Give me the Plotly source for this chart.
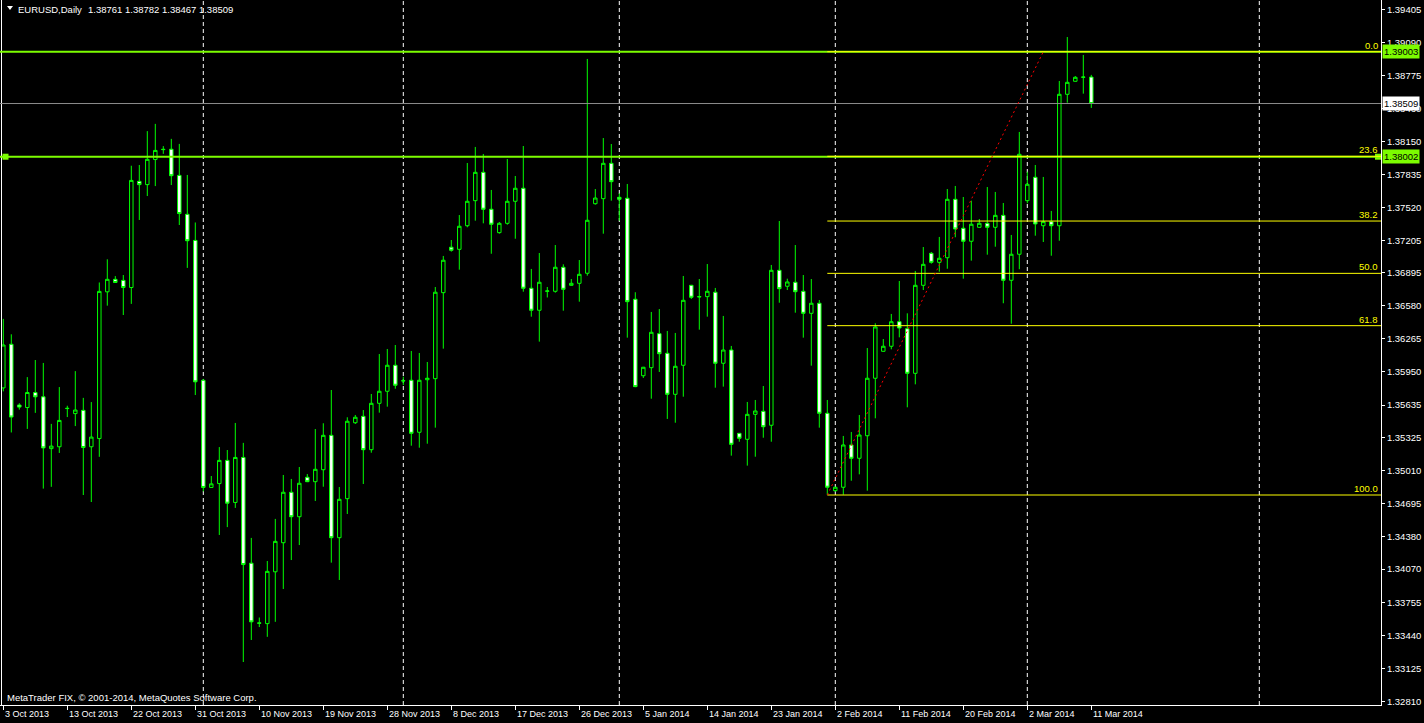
import plotly.graph_objects as go

# ---------------- data (EURUSD daily, 3 Oct 2013 .. 11 Mar 2014, bars Sun-Fri) ----------------
OPEN = [
    1.35798, 1.36214, 1.35635, 1.35611, 1.35754, 1.35713, 1.35219, 1.35237, 1.35601, 1.35553,
    1.35584, 1.35237, 1.35315, 1.36714, 1.36833, 1.36823, 1.36755, 1.37767, 1.37736, 1.37975,
    1.38073, 1.38073, 1.37824, 1.37453, 1.37204, 1.35870, 1.34849, 1.34886, 1.35107, 1.34706,
    1.35135, 1.34127, 1.33558, 1.33551, 1.34045, 1.34322, 1.34803, 1.34570, 1.34946, 1.34904,
    1.35018, 1.35346, 1.34370, 1.34742, 1.35466, 1.35527, 1.35209, 1.35651, 1.35766, 1.36014,
    1.35867, 1.35871, 1.35375, 1.35876, 1.35886, 1.36706, 1.37139, 1.37119, 1.37344, 1.37583,
    1.37853, 1.37501, 1.37278, 1.37367, 1.37577, 1.37701, 1.36748, 1.36538, 1.36719, 1.36719,
    1.36948, 1.36776, 1.36795, 1.36891, 1.37554, 1.37602, 1.37939, 1.37615, 1.37606, 1.36643,
    1.35914, 1.35991, 1.36315, 1.36128, 1.35737, 1.36014, 1.36776, 1.36665, 1.36668, 1.36710,
    1.36033, 1.36159, 1.35365, 1.35308, 1.35546, 1.35575, 1.35442, 1.36919, 1.36767, 1.36805,
    1.36719, 1.36509, 1.36605, 1.35556, 1.34818, 1.34851, 1.35254, 1.35127, 1.35342, 1.35890,
    1.36147, 1.36195, 1.36429, 1.36362, 1.35937, 1.36776, 1.37081, 1.36995, 1.37039, 1.37596,
    1.37320, 1.37196, 1.37329, 1.37367, 1.37329, 1.37443, 1.36824, 1.37072, 1.37583, 1.37806,
    1.37344, 1.37383, 1.37344, 1.38597, 1.38721, 1.38759, 1.38761,
]
HIGH = [
    1.36456, 1.36309, 1.35652, 1.35901, 1.36064, 1.36036, 1.35455, 1.35806, 1.35628, 1.35958,
    1.35703, 1.35663, 1.36803, 1.37024, 1.36864, 1.36874, 1.37916, 1.37923, 1.38246, 1.38315,
    1.38103, 1.38172, 1.38124, 1.37828, 1.37375, 1.35884, 1.34958, 1.35234, 1.35206, 1.35464,
    1.35274, 1.34368, 1.33609, 1.34148, 1.34549, 1.34968, 1.34930, 1.35044, 1.34977, 1.35406,
    1.35461, 1.35778, 1.34853, 1.35518, 1.35540, 1.35587, 1.35740, 1.36121, 1.36169, 1.36207,
    1.35905, 1.36150, 1.36131, 1.36045, 1.36760, 1.37056, 1.37208, 1.37446, 1.37942, 1.38095,
    1.38028, 1.37685, 1.37380, 1.37980, 1.37818, 1.38104, 1.36932, 1.37084, 1.36760, 1.37160,
    1.36976, 1.36836, 1.37017, 1.38934, 1.37694, 1.38180, 1.38123, 1.37653, 1.37742, 1.36710,
    1.35998, 1.36522, 1.36550, 1.36341, 1.36322, 1.36865, 1.36780, 1.36836, 1.36979, 1.36751,
    1.36484, 1.36198, 1.35368, 1.35664, 1.35683, 1.35816, 1.36970, 1.37389, 1.36839, 1.37160,
    1.36874, 1.36836, 1.36636, 1.35683, 1.34855, 1.35340, 1.35378, 1.35540, 1.36178, 1.36414,
    1.36264, 1.36503, 1.36817, 1.36509, 1.36913, 1.37141, 1.37094, 1.37237, 1.37694, 1.37723,
    1.37618, 1.37583, 1.37408, 1.37713, 1.37666, 1.37561, 1.37256, 1.38238, 1.37859, 1.37923,
    1.37809, 1.37485, 1.38724, 1.39143, 1.38771, 1.38972, 1.38782,
]
LOW = [
    1.35765, 1.35373, 1.35591, 1.35407, 1.35560, 1.34838, 1.34855, 1.35178, 1.35520, 1.35434,
    1.34777, 1.34710, 1.35141, 1.36582, 1.36800, 1.36493, 1.36599, 1.37399, 1.37627, 1.37722,
    1.38029, 1.37732, 1.37351, 1.36942, 1.35730, 1.34811, 1.34845, 1.34396, 1.34471, 1.34654,
    1.33185, 1.33395, 1.33518, 1.33425, 1.33568, 1.33881, 1.34157, 1.34300, 1.34900, 1.34720,
    1.34856, 1.34132, 1.33967, 1.34596, 1.35454, 1.34882, 1.35180, 1.35562, 1.35619, 1.35790,
    1.35826, 1.35247, 1.35228, 1.35266, 1.35419, 1.36172, 1.37097, 1.36925, 1.37329, 1.37392,
    1.37367, 1.37077, 1.37268, 1.37354, 1.37220, 1.36715, 1.36477, 1.36239, 1.36660, 1.36706,
    1.36534, 1.36772, 1.36620, 1.36868, 1.37545, 1.37268, 1.37583, 1.37392, 1.36277, 1.35805,
    1.35893, 1.35695, 1.35950, 1.35502, 1.35466, 1.35714, 1.36646, 1.36353, 1.36477, 1.35800,
    1.35810, 1.35152, 1.35285, 1.35057, 1.35142, 1.35323, 1.35285, 1.36610, 1.36731, 1.36515,
    1.36277, 1.36010, 1.35419, 1.34777, 1.34809, 1.34780, 1.34913, 1.34974, 1.34818, 1.35508,
    1.36144, 1.36166, 1.36280, 1.35613, 1.35832, 1.36731, 1.36982, 1.36906, 1.36934, 1.37234,
    1.36839, 1.37011, 1.37326, 1.37068, 1.37144, 1.36605, 1.36410, 1.36929, 1.37558, 1.37249,
    1.37189, 1.37058, 1.37201, 1.38517, 1.38718, 1.38603, 1.38467,
]
CLOSE = [
    1.36207, 1.35520, 1.35615, 1.35754, 1.35713, 1.35226, 1.35243, 1.35488, 1.35603, 1.35587,
    1.35230, 1.35329, 1.36718, 1.36833, 1.36803, 1.36755, 1.37776, 1.37736, 1.37977, 1.38062,
    1.38070, 1.37821, 1.37460, 1.37201, 1.35856, 1.34849, 1.34883, 1.35107, 1.34699, 1.35135,
    1.34114, 1.33568, 1.33555, 1.34049, 1.34335, 1.34803, 1.34570, 1.34889, 1.34904, 1.35022,
    1.35346, 1.34370, 1.34736, 1.35480, 1.35518, 1.35209, 1.35651, 1.35766, 1.36014, 1.35823,
    1.35865, 1.35365, 1.35871, 1.35890, 1.36710, 1.37015, 1.37110, 1.37339, 1.37577, 1.37853,
    1.37501, 1.37358, 1.37367, 1.37577, 1.37701, 1.36748, 1.36538, 1.36805, 1.36722, 1.36948,
    1.36738, 1.36795, 1.36881, 1.37396, 1.37608, 1.37939, 1.37764, 1.37596, 1.36620, 1.35810,
    1.35995, 1.36328, 1.36124, 1.35737, 1.36004, 1.36633, 1.36662, 1.36668, 1.36719, 1.36033,
    1.36159, 1.35260, 1.35318, 1.35546, 1.35578, 1.35428, 1.36919, 1.36744, 1.36808, 1.36715,
    1.36509, 1.36605, 1.35556, 1.34851, 1.34851, 1.35254, 1.35127, 1.35349, 1.35890, 1.36379,
    1.36195, 1.36429, 1.36369, 1.35937, 1.36776, 1.36976, 1.36995, 1.37034, 1.37596, 1.37313,
    1.37196, 1.37358, 1.37367, 1.37329, 1.37443, 1.36824, 1.37072, 1.38025, 1.37739, 1.37361,
    1.37383, 1.37344, 1.38597, 1.38711, 1.38759, 1.38761, 1.38509,
]

DATE_LABELS = ["3 Oct 2013", "13 Oct 2013", "22 Oct 2013", "31 Oct 2013", "10 Nov 2013",
               "19 Nov 2013", "28 Nov 2013", "8 Dec 2013", "17 Dec 2013", "26 Dec 2013",
               "5 Jan 2014", "14 Jan 2014", "23 Jan 2014", "2 Feb 2014", "11 Feb 2014",
               "20 Feb 2014", "2 Mar 2014", "11 Mar 2014"]
DATE_LABEL_BARS = [0, 8, 16, 24, 32, 40, 48, 56, 64, 72, 80, 88, 96, 104, 112, 120, 128, 136]
MONTH_START_BARS = [25, 50, 77, 104, 128, 157]   # 1 Nov, 1 Dec, 1 Jan, 2 Feb, 2 Mar, 1 Apr

PRICE_TICKS = [1.39405, 1.39090, 1.38775, 1.38460, 1.38150, 1.37835, 1.37520, 1.37205,
               1.36895, 1.36580, 1.36265, 1.35950, 1.35635, 1.35325, 1.35010, 1.34695,
               1.34380, 1.34070, 1.33755, 1.33440, 1.33125, 1.32810]

LEVEL_HI = 1.39003          # horizontal lines
LEVEL_LO = 1.38002
BID = 1.38509
FIB_LOW, FIB_HIGH = 1.34777, 1.39003
FIB_BAR_LOW, FIB_BAR_HIGH = 103, 130
FIB_LEVELS = [0.0, 23.6, 38.2, 50.0, 61.8, 100.0]

TITLE_SYMBOL = "EURUSD,Daily"
TITLE_OHLC = "1.38761 1.38782 1.38467 1.38509"
WATERMARK = "MetaTrader FIX, \u00a9 2001-2014, MetaQuotes Software Corp."

# ---------------- figure ----------------
W, H = 1424, 723
PLOT_W, PLOT_H = 1381, 705
Y_RANGE = [1.327751, 1.394959]
X_RANGE = [-0.4125, 172.2125]
FONT = "Liberation Sans, Arial, sans-serif"
FS = 9.5
FS_DATE = 9
LIME = "#00FF00"
LAWN = "#7CFC00"

x = list(range(len(OPEN)))

fig = go.Figure()
fig.add_trace(go.Candlestick(
    x=x, open=OPEN, high=HIGH, low=LOW, close=CLOSE,
    increasing=dict(line=dict(color=LIME, width=1), fillcolor="black"),
    decreasing=dict(line=dict(color=LIME, width=1), fillcolor="white"),
    whiskerwidth=0, hoverinfo="skip", showlegend=False,
))

def px_x(p):
    return p / PLOT_W

def px_y(p):
    return 1 - p / PLOT_H

shapes = []
# vertical dashed grid at month starts
for b in MONTH_START_BARS:
    shapes.append(dict(type="line", xref="x", yref="paper", x0=b, x1=b, y0=0, y1=1,
                       line=dict(color="white", width=1, dash="4px,3px"), layer="below"))
# left frame line
shapes.append(dict(type="line", xref="paper", yref="paper", x0=px_x(1.5), x1=px_x(1.5), y0=0, y1=1,
                   line=dict(color="white", width=1)))
# bid line
shapes.append(dict(type="line", xref="paper", yref="y", x0=0, x1=1, y0=BID, y1=BID,
                   line=dict(color="#8C8C8C", width=1)))
# horizontal levels
for lv in (LEVEL_HI, LEVEL_LO):
    shapes.append(dict(type="line", xref="paper", yref="y", x0=0, x1=1, y0=lv, y1=lv,
                       line=dict(color=LAWN, width=2)))
# small anchor squares on lower level
half = 3.0 / (PLOT_H / (Y_RANGE[1] - Y_RANGE[0]))
for a, b in ((px_x(2.5), px_x(8.5)), (px_x(1375), px_x(1381))):
    shapes.append(dict(type="rect", xref="paper", yref="y", x0=a, x1=b,
                       y0=LEVEL_LO - half, y1=LEVEL_LO + half,
                       line=dict(width=0), fillcolor=LAWN))
# fibonacci levels
for f in FIB_LEVELS:
    price = FIB_HIGH - (FIB_HIGH - FIB_LOW) * f / 100.0
    shapes.append(dict(type="line", xref="x", yref="y", x0=FIB_BAR_LOW, x1=X_RANGE[1],
                       y0=price, y1=price, line=dict(color="#FFFF00", width=1)))
# fibonacci trend line
shapes.append(dict(type="line", xref="x", yref="y", x0=FIB_BAR_LOW, y0=FIB_LOW,
                   x1=FIB_BAR_HIGH, y1=FIB_HIGH,
                   line=dict(color="#FF0000", width=1, dash="2px,3px")))
# title triangle
shapes.append(dict(type="path", xref="paper", yref="paper",
                   path=f"M {px_x(7)} {px_y(6)} L {px_x(13)} {px_y(6)} L {px_x(10)} {px_y(10)} Z",
                   fillcolor="white", line=dict(width=0)))

annotations = []
# fib labels
for f in FIB_LEVELS:
    price = FIB_HIGH - (FIB_HIGH - FIB_LOW) * f / 100.0
    annotations.append(dict(text=f"{f:.1f}", xref="paper", yref="y", x=px_x(1379), y=price,
                            xanchor="right", yanchor="bottom", showarrow=False, borderpad=0,
                            font=dict(family=FONT, size=FS, color="#FFFF00")))
# price boxes on axis
for val, bg in ((LEVEL_HI, LAWN), (LEVEL_LO, LAWN), (BID, "white")):
    annotations.append(dict(text=f"{val:.5f}", xref="paper", yref="y", x=1, y=val,
                            xanchor="left", yanchor="middle", xshift=1, showarrow=False,
                            bgcolor=bg, borderpad=1,
                            font=dict(family=FONT, size=FS, color="black")))
# date labels
for b, lab in zip(DATE_LABEL_BARS, DATE_LABELS):
    annotations.append(dict(text=lab, xref="x", yref="paper", x=b, y=0, xanchor="left",
                            yanchor="top", yshift=-2, showarrow=False,
                            font=dict(family=FONT, size=FS_DATE, color="white")))
# title & watermark
annotations.append(dict(text=TITLE_SYMBOL, xref="paper", yref="paper", x=px_x(16), y=px_y(9),
                        xanchor="left", yanchor="middle", showarrow=False,
                        font=dict(family=FONT, size=FS, color="white")))
annotations.append(dict(text=TITLE_OHLC, xref="paper", yref="paper", x=px_x(86), y=px_y(9),
                        xanchor="left", yanchor="middle", showarrow=False,
                        font=dict(family=FONT, size=FS, color="white")))
annotations.append(dict(text=WATERMARK, xref="paper", yref="paper", x=px_x(5), y=px_y(697),
                        xanchor="left", yanchor="middle", showarrow=False,
                        font=dict(family=FONT, size=FS, color="white")))

fig.update_layout(
    width=W, height=H,
    margin=dict(l=0, r=W - PLOT_W, t=0, b=H - PLOT_H, pad=0),
    paper_bgcolor="black", plot_bgcolor="black",
    showlegend=False, boxgap=0.38, hovermode=False,
    shapes=shapes, annotations=annotations,
    xaxis=dict(range=X_RANGE, rangeslider=dict(visible=False), showgrid=False, zeroline=False,
               showline=True, linecolor="white", linewidth=1, ticks="outside", ticklen=4,
               tickcolor="white", tickvals=DATE_LABEL_BARS, showticklabels=False, fixedrange=True),
    yaxis=dict(range=Y_RANGE, side="right", showgrid=False, zeroline=False, showline=True,
               linecolor="white", linewidth=1, ticks="outside", ticklen=3, tickcolor="white",
               tickvals=PRICE_TICKS, ticktext=[f"{t:.5f}" for t in PRICE_TICKS],
               tickfont=dict(family=FONT, size=FS, color="white"), fixedrange=True),
)

fig.write_html("out.html", config={"displayModeBar": False},
               post_script="document.body.style.margin='0px';document.body.style.background='black';")
